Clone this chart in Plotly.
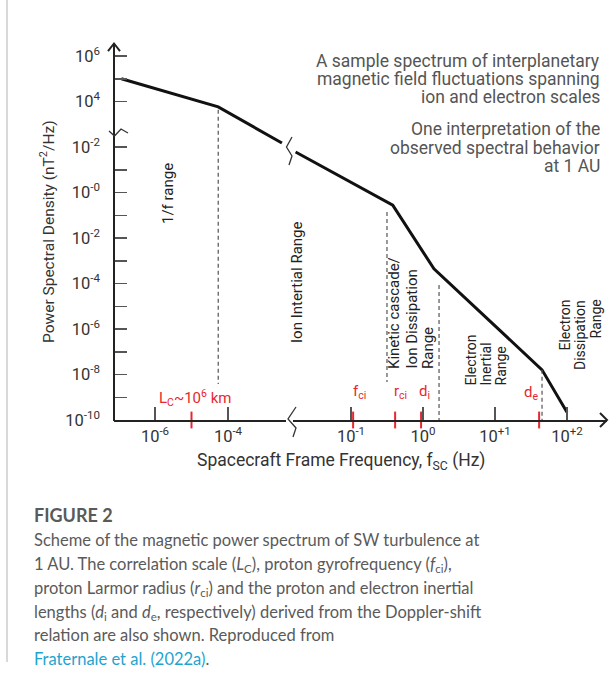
import numpy as np
import plotly.graph_objects as go

W, H = 614, 691

# ---------------- data ----------------
# spectrum, low-frequency part (left of the frequency break)
LEFT_FREQ = [1.2e-7, 5.4e-5, 3.0e-3]
LEFT_PSD = [1.0e5, 5.8e3, 1.5e2]
# spectrum, high-frequency part (right of the frequency break)
RIGHT_FREQ = [1.7e-2, 0.38, 1.42, 45.0, 100.0]
RIGHT_PSD = [60.0, 0.28, 4.4e-4, 1.6e-8, 2.2e-10]

# range boundaries (dashed lines): frequency, top PSD, bottom PSD
BOUND_LEFT_FREQ = [5.4e-5]
BOUND_LEFT_TOP = [4.3e3]
BOUND_LEFT_BOT = [3.8e-9]
BOUND_RIGHT_FREQ = [0.316, 1.67, 45.0]
BOUND_RIGHT_TOP = [0.139, 8.5e-5, 1.6e-8]
BOUND_RIGHT_BOT = [4.7e-9, 1e-10, 1e-10]

# characteristic scales (red marks)
SCALE_LEFT_FREQ = [1e-5]            # L_C
SCALE_RIGHT_FREQ = [0.107, 0.41, 0.94, 41.0]   # f_ci, r_ci, d_i, d_e

# tick values / labels
X1_TICKVALS = [1e-6, 1e-4]
X1_TICKTEXT = ["10<sup>-6</sup>", "10<sup>-4</sup>"]
X2_TICKVALS = [1e-1, 1e0, 1e1, 1e2]
X2_TICKTEXT = ["10<sup>-1</sup>", "10<sup>0</sup>", "10<sup>+1</sup>", "10<sup>+2</sup>"]
Y_TICKVALS = [1e6, 1e5, 1e4, 1e2, 1e1, 1e0, 1e-1, 1e-2, 1e-3, 1e-4,
              1e-5, 1e-6, 1e-7, 1e-8, 1e-9, 1e-10]
Y_TICKTEXT = ["10<sup>6</sup>", "", "10<sup>4</sup>", "10<sup>-2</sup>", "",
              "10<sup>-0</sup>", "", "10<sup>-2</sup>", "", "10<sup>-4</sup>",
              "", "10<sup>-6</sup>", "", "10<sup>-8</sup>", "", "10<sup>-10</sup>"]

# ---------------- helpers (pixel -> paper) ----------------
def px(x):
    return x / W

def py(y):
    return 1 - y / H

def path(points):
    return "M " + " L ".join(f"{px(a):.5f},{py(b):.5f}" for a, b in points)

FONT = "Roboto"
RED = "#e8262e"
DARK = "#222222"
GREY = "#555555"

fig = go.Figure()

line_style = dict(color="#111111", width=3)
fig.add_trace(go.Scatter(x=LEFT_FREQ, y=LEFT_PSD, mode="lines", line=line_style,
                         xaxis="x", yaxis="y", hoverinfo="skip"))
fig.add_trace(go.Scatter(x=RIGHT_FREQ, y=RIGHT_PSD, mode="lines", line=line_style,
                         xaxis="x2", yaxis="y", hoverinfo="skip"))

dash_style = dict(color="#555555", width=1.2, dash="4px,3px")
for f, t, b in zip(BOUND_LEFT_FREQ, BOUND_LEFT_TOP, BOUND_LEFT_BOT):
    fig.add_trace(go.Scatter(x=[f, f], y=[t, b], mode="lines", line=dash_style,
                             xaxis="x", yaxis="y", hoverinfo="skip"))
for f, t, b in zip(BOUND_RIGHT_FREQ, BOUND_RIGHT_TOP, BOUND_RIGHT_BOT):
    fig.add_trace(go.Scatter(x=[f, f], y=[t, b], mode="lines", line=dash_style,
                             xaxis="x2", yaxis="y", hoverinfo="skip"))

red_marker = dict(symbol="line-ns", size=12, color=RED, line=dict(color=RED, width=2))
fig.add_trace(go.Scatter(x=SCALE_LEFT_FREQ, y=[1e-10] * len(SCALE_LEFT_FREQ),
                         mode="markers", marker=red_marker, cliponaxis=False,
                         xaxis="x", yaxis="y", hoverinfo="skip"))
fig.add_trace(go.Scatter(x=SCALE_RIGHT_FREQ, y=[1e-10] * len(SCALE_RIGHT_FREQ),
                         mode="markers", marker=red_marker, cliponaxis=False,
                         xaxis="x2", yaxis="y", hoverinfo="skip"))

# ---------------- axes ----------------
X_AXIS_Y = 420
Y_AXIS_X = 114
tickfont = dict(family=FONT, size=16.5, color="#333333")
common_x = dict(type="log", anchor="y", showline=True, linecolor=DARK, linewidth=2,
                ticks="inside", ticklen=13, tickcolor="#555555", tickwidth=1.5,
                showgrid=False, zeroline=False, tickfont=tickfont, automargin=False,
                fixedrange=True)
x1_left, x1_right = Y_AXIS_X, 286
x2_left, x2_right = 293, 607
dec1, dec2 = 36.5, 72.0
x1_range = [-6 - (155 - x1_left) / dec1, -6 + (x1_right - 155) / dec1]
x2_range = [-(423 - x2_left) / dec2, 2 + (x2_right - 567) / dec2]

fig.update_layout(
    xaxis=dict(common_x, domain=[px(x1_left), px(x1_right)], range=x1_range,
               tickvals=X1_TICKVALS, ticktext=X1_TICKTEXT),
    xaxis2=dict(common_x, domain=[px(x2_left), px(x2_right)], range=x2_range,
                tickvals=X2_TICKVALS, ticktext=X2_TICKTEXT),
    yaxis=dict(type="log", anchor="x", domain=[py(X_AXIS_Y), py(43)],
               range=[-10, -10 + (X_AXIS_Y - 43) / 22.75],
               showline=False, ticks="inside", ticklen=13, tickcolor="#555555",
               tickwidth=1.5, tickvals=Y_TICKVALS, ticktext=Y_TICKTEXT,
               tickfont=tickfont, ticklabelstandoff=13, showgrid=False,
               zeroline=False, automargin=False, fixedrange=True),
)

# ---------------- decorative shapes ----------------
axis_line = dict(color=DARK, width=2)
thin = dict(color="#333333", width=1.3)
shapes = [
    dict(type="line", xref="paper", yref="paper", x0=px(Y_AXIS_X), x1=px(Y_AXIS_X),
         y0=py(X_AXIS_Y + 1), y1=py(125), line=axis_line),
    dict(type="line", xref="paper", yref="paper", x0=px(Y_AXIS_X), x1=px(Y_AXIS_X),
         y0=py(140), y1=py(44), line=axis_line),
    dict(type="path", xref="paper", yref="paper",
         path=path([(108, 51), (114, 43.5), (120, 51)]), line=axis_line),
    dict(type="path", xref="paper", yref="paper",
         path=path([(109, 131), (114.5, 136), (121, 129), (128, 133)]), line=thin),
    dict(type="path", xref="paper", yref="paper",
         path=path([(600, 413), (607, 420), (600, 427)]), line=axis_line),
    dict(type="path", xref="paper", yref="paper",
         path=path([(296, 407), (288, 419), (296, 428), (293, 437)]), line=thin),
    dict(type="path", xref="paper", yref="paper",
         path=path([(292, 137), (286.5, 147), (292, 156), (289, 165)]), line=thin),
    dict(type="line", xref="paper", yref="paper", x0=px(7), x1=px(7),
         y0=py(0), y1=py(662), line=dict(color="#cccccc", width=1.5)),
]
fig.update_layout(shapes=shapes)

# ---------------- text ----------------
annotations = []

def ann(text, x, y, size=15, color=DARK, xanchor="center", yanchor="middle",
        angle=0, family=FONT):
    annotations.append(dict(text=text, x=px(x), y=py(y), xref="paper", yref="paper",
                            showarrow=False, xanchor=xanchor, yanchor=yanchor,
                            textangle=angle, font=dict(family=family, size=size,
                                                       color=color)))

# axis titles
ann("Power Spectral Density (nT<sup>2</sup>/Hz)", 47, 232, size=15.5, color="#333333",
    angle=-90)
ann("Spacecraft Frame Frequency, f<sub>SC</sub> (Hz)", 341, 462, size=17.5,
    color="#333333")

# headline texts
for i, t in enumerate(["A sample spectrum of interplanetary",
                       "magnetic field fluctuations spanning",
                       "ion and electron scales"]):
    ann(t, 602, 61 + 18 * i, size=17.5, color=GREY, xanchor="right")
for i, t in enumerate(["One interpretation of the",
                       "observed spectral behavior",
                       "at 1 AU"]):
    ann(t, 602, 129 + 18.5 * i, size=17.5, color=GREY, xanchor="right")

# range labels (rotated)
ann("1/f range", 168, 194, size=15, angle=-90)
ann("Ion Intertial Range", 297, 282, size=15, angle=-90)
for xc, t in zip([394, 411, 428], ["Kinetic cascade/", "Ion Dissipation", "Range"]):
    ann(t, xc, 371, size=15, angle=-90, yanchor="bottom")
for xc, t in zip([470, 485, 500], ["Electron", "Inertial", "Range"]):
    ann(t, xc, 388, size=14, angle=-90, yanchor="bottom")
for xc, t in zip([564, 580, 595], ["Electron", "Dissipation", "Range"]):
    ann(t, xc, 298, size=14, angle=-90, yanchor="top")

# red scale labels
ann("L<sub>C</sub>~10<sup>6</sup> km", 195, 398, size=15, color=RED)
ann("f<sub>ci</sub>", 351, 392, size=15, color=RED, xanchor="left")
ann("r<sub>ci</sub>", 392, 392, size=15, color=RED, xanchor="left")
ann("d<sub>i</sub>", 417, 392, size=15, color=RED, xanchor="left")
ann("d<sub>e</sub>", 540, 393, size=15, color=RED, xanchor="right")

# caption
CAP = "Lato"
CAPC = "#5a5a5a"
ann("<b>FIGURE 2</b>", 32, 515, size=18, color=CAPC, xanchor="left", family=CAP)
cap_lines = [
    "Scheme of the magnetic power spectrum of SW turbulence at",
    "1 AU. The correlation scale (<i>L</i><sub>C</sub>), proton gyrofrequency (<i>f</i><sub>ci</sub>),",
    "proton Larmor radius (<i>r</i><sub>ci</sub>) and the proton and electron inertial",
    "lengths (<i>d</i><sub>i</sub> and <i>d</i><sub>e</sub>, respectively) derived from the Doppler-shift",
    "relation are also shown. Reproduced from",
    "<span style='color:#1fa3cf'>Fraternale et al. (2022a)</span>.",
]
cap_y = [540, 564, 588, 612, 635, 659]
for t, yy in zip(cap_lines, cap_y):
    ann(t, 32, yy, size=16.5, color=CAPC, xanchor="left", family=CAP)

fig.update_layout(
    annotations=annotations,
    width=W, height=H,
    margin=dict(l=0, r=0, t=0, b=0, pad=0),
    paper_bgcolor="white", plot_bgcolor="white",
    showlegend=False,
    font=dict(family=FONT),
)

fig.write_html("out.html",
               config={"displayModeBar": False, "staticPlot": True},
               post_script="document.body.style.margin='0px';"
                           "document.body.style.overflow='hidden';")
